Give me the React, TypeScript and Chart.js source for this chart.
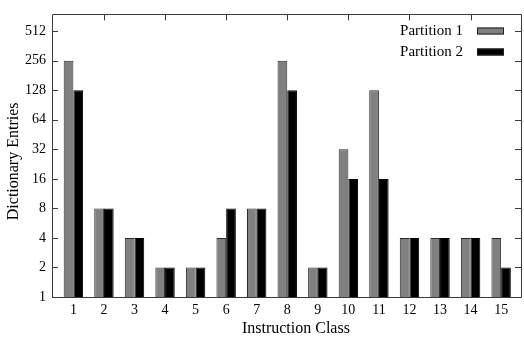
import React, { useEffect, useRef } from "react";
import { Chart, registerables } from "chart.js";

Chart.register(...registerables);

const categories = ["1", "2", "3", "4", "5", "6", "7", "8", "9", "10", "11", "12", "13", "14", "15"];
const partition1 = [256, 8, 4, 2, 2, 4, 8, 256, 2, 32, 128, 4, 4, 4, 4];
const partition2 = [128, 8, 4, 2, 2, 8, 8, 128, 2, 16, 16, 4, 4, 4, 2];
const yTicks = [1, 2, 4, 8, 16, 32, 64, 128, 256, 512];
const topTicks = [2, 4, 6, 8, 10, 12, 14];
const seriesNames = ["Partition 1", "Partition 2"];
const xTitle = "Instruction Class";
const yTitle = "Dictionary Entries";

const FONT = "'Liberation Serif', 'DejaVu Serif', serif";
const AXIS = "#3a3a3a";

const framePlugin = {
  id: "gnuFrame",
  afterDatasetsDraw(chart: any) {
    const { ctx, chartArea: a, scales } = chart;
    const x = scales.x;
    const y = scales.y;
    ctx.save();
    ctx.strokeStyle = AXIS;
    ctx.lineWidth = 1;
    ctx.beginPath();
    ctx.rect(Math.round(a.left) + 0.5, Math.round(a.top) + 0.5, Math.round(a.right - a.left), Math.round(a.bottom - a.top));
    ctx.stroke();
    const L = 6;
    ctx.beginPath();
    yTicks.forEach((v) => {
      const py = Math.round(y.getPixelForValue(v)) + 0.5;
      ctx.moveTo(a.left, py);
      ctx.lineTo(a.left + L, py);
      ctx.moveTo(a.right, py);
      ctx.lineTo(a.right - L, py);
    });
    topTicks.forEach((v) => {
      const px = Math.round(x.getPixelForValue(v)) + 0.5;
      ctx.moveTo(px, a.top);
      ctx.lineTo(px, a.top + L);
    });
    ctx.stroke();

    // axis titles
    ctx.fillStyle = "#000";
    ctx.font = `16px ${FONT}`;
    ctx.textAlign = "center";
    ctx.textBaseline = "middle";
    ctx.fillText(xTitle, a.left + (a.right - a.left) * 0.52, 329);
    ctx.save();
    ctx.translate(14, a.top + (a.bottom - a.top) * 0.52);
    ctx.rotate(-Math.PI / 2);
    ctx.fillText(yTitle, 0, 0);
    ctx.restore();

    // legend
    ctx.font = `15px ${FONT}`;
    ctx.fillStyle = "#000";
    ctx.textAlign = "right";
    ctx.textBaseline = "middle";
    const rows = [31, 52];
    const fills = ["#808080", "#000000"];
    seriesNames.forEach((name, i) => {
      ctx.fillText(name, 463, rows[i]);
      ctx.fillStyle = fills[i];
      ctx.fillRect(477, rows[i] - 3.5, 27, 7);
      ctx.strokeStyle = "#222";
      ctx.strokeRect(477.5, rows[i] - 3, 26, 6);
      ctx.fillStyle = "#000";
    });
    ctx.restore();
  },
};

export default function App() {
  const ref = useRef<HTMLCanvasElement>(null);
  useEffect(() => {
    document.body.style.margin = "0";
    const toPts = (arr: number[]) => arr.map((v, i) => ({ x: i + 1, y: v }));
    const chart = new Chart(ref.current!, {
      type: "bar",
      data: {
        datasets: [
          {
            label: seriesNames[0],
            data: toPts(partition1),
            backgroundColor: "#808080",
            borderColor: "#2a2a2a",
            borderWidth: 1,
            categoryPercentage: 0.635,
            barPercentage: 1,
          },
          {
            label: seriesNames[1],
            data: toPts(partition2),
            backgroundColor: "#000000",
            borderColor: "#000000",
            borderWidth: 1,
            categoryPercentage: 0.635,
            barPercentage: 1,
          },
        ],
      },
      options: {
        responsive: false,
        animation: false,
        layout: { padding: { left: 0, right: 3, top: 10, bottom: 0 } },
        plugins: { legend: { display: false }, tooltip: { enabled: false } },
        scales: {
          x: {
            type: "linear",
            offset: false,
            min: 0.3,
            max: 15.65,
            grid: { display: false, drawTicks: false },
            border: { display: false },
            afterBuildTicks: (s: any) => {
              s.ticks = categories.map((_, i) => ({ value: i + 1 }));
            },
            afterFit: (s: any) => {
              s.height = 41;
            },
            ticks: {
              autoSkip: false,
              maxRotation: 0,
              padding: 5,
              color: "#000",
              font: { family: FONT, size: 14 },
              callback: (v: any) => categories[Number(v) - 1],
            },
          },
          y: {
            type: "logarithmic",
            min: 1,
            max: 760,
            grid: { display: false, drawTicks: false },
            border: { display: false },
            afterBuildTicks: (s: any) => {
              s.ticks = yTicks.map((v) => ({ value: v }));
            },
            afterFit: (s: any) => {
              s.width = 52;
            },
            ticks: {
              padding: 6,
              color: "#000",
              font: { family: FONT, size: 14 },
              callback: (v: any) => String(v),
            },
          },
        },
      },
      plugins: [framePlugin],
    } as any);
    return () => chart.destroy();
  }, []);
  return (
    <div style={{ position: "absolute", left: 0, top: 0, width: 524, height: 338 }}>
      <canvas ref={ref} width={524} height={338} />
    </div>
  );
}
